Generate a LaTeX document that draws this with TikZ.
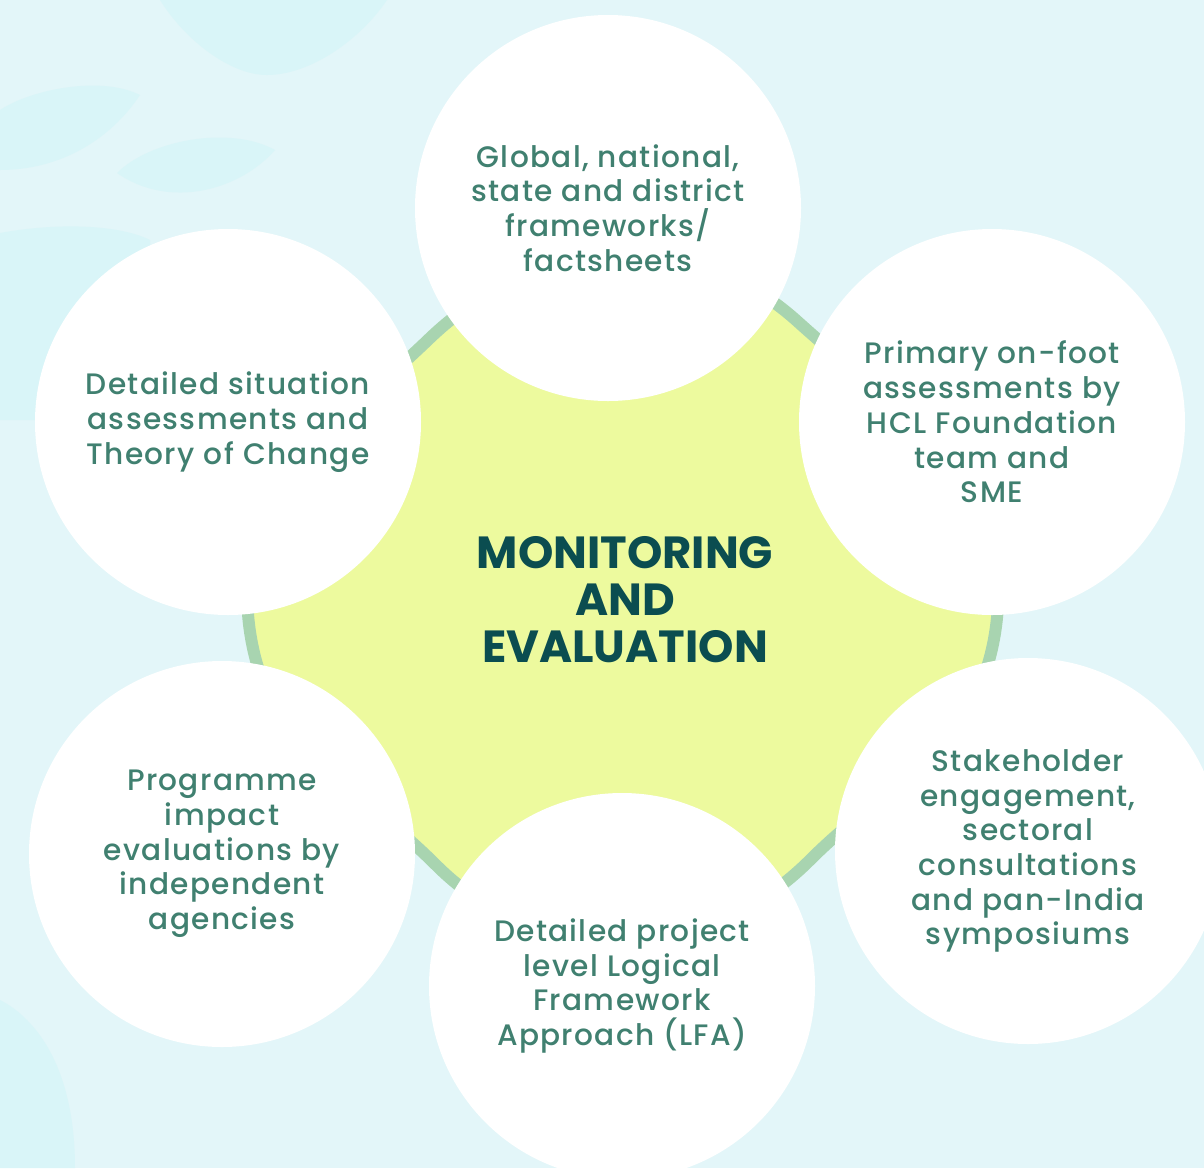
\documentclass[tikz,border=0pt]{standalone}
\usepackage{fontspec}
\setmainfont{Poppins}[UprightFont=* Medium, BoldFont=* Bold]
\newfontfamily\bubblefont{Poppins}[UprightFont=* Medium, LetterSpace=4.5]
\definecolor{bgA}{HTML}{E3F6F9}
\definecolor{bgB}{HTML}{D9F5F8}
\definecolor{ringgreen}{HTML}{A8D4B0}
\definecolor{hexfill}{HTML}{EDFA9E}
\definecolor{txtteal}{HTML}{408070}
\definecolor{darkteal}{HTML}{0B4D50}
\begin{document}
\begin{tikzpicture}[x=0.5pt,y=-0.5pt,
  bubble/.style={circle, fill=white, minimum size=193pt, inner sep=0pt,
    align=center, text=txtteal, font=\bubblefont\fontsize{14.8}{17.35}\selectfont},
  centertext/.style={align=center, text=darkteal, font=\bfseries\fontsize{22.5}{23.5}\selectfont}]
\useasboundingbox (0,0) rectangle (1204,1168);
% background
\fill[bgA] (0,0) rectangle (1204,1168);
\fill[bgB] (160,0) .. controls (185,40) and (230,75) .. (267,75) .. controls (310,75) and (360,40) .. (387,0) -- cycle;
\fill[bgB] (0,110) .. controls (30,90) and (100,75) .. (140,95) .. controls (110,140) and (60,170) .. (0,170) -- cycle;
\fill[bgB] (117,173) .. controls (150,140) and (230,125) .. (275,150) .. controls (240,190) and (170,210) .. (117,173) -- cycle;
\fill[bgB] (0,233) .. controls (60,222) and (120,225) .. (150,240) -- (150,420) -- (0,420) -- cycle;
\fill[bgB] (0,1000) .. controls (30,1015) and (75,1060) .. (75,1168) -- (0,1168) -- cycle;
% central rounded hexagon
\draw[line width=6pt, draw=ringgreen, fill=hexfill]
  (251,638) .. controls (227,500) and (329,435) .. (430,338)
  .. controls (536,237) and (688,223) .. (797,321)
  .. controls (908,421) and (1021,492) .. (994,639)
  .. controls (973,752) and (892,778) .. (810,860)
  .. controls (704,966) and (542,971) .. (436,865)
  .. controls (353,782) and (271,753) .. (251,638) -- cycle;
\node[centertext] (c) at (625,600) {MONITORING\\AND\\EVALUATION};
% bubbles
\node[bubble] (top) at (608,208) {Global, national,\\state and district\\frameworks/\\factsheets};
\node[bubble] (ur) at (992,422) {Primary on-foot\\assessments by\\HCL Foundation\\team and\\SME};
\node[bubble] (ul) at (228,422) {Detailed situation\\assessments and\\Theory of Change};
\node[bubble] (ll) at (222,854) {Programme\\impact\\evaluations by\\independent\\agencies};
\node[bubble] (bot) at (622,986) {Detailed project\\level Logical\\Framework\\Approach (LFA)};
\node[bubble] (lr) at (1028,851) {Stakeholder\\engagement,\\sectoral\\consultations\\and pan-India\\symposiums};
\end{tikzpicture}
\end{document}
